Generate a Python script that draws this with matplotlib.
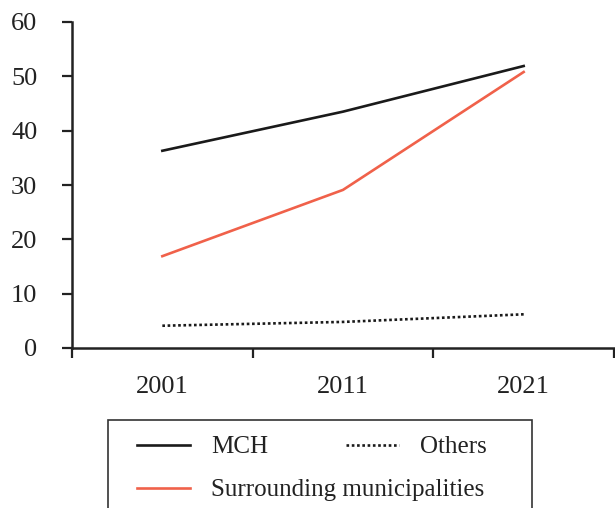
import matplotlib.pyplot as plt
from matplotlib.patches import Rectangle

years = ["2001", "2011", "2021"]
mch = [36.3, 43.5, 51.9]
surrounding = [16.9, 29.1, 50.8]
others = [4.1, 4.8, 6.2]

plt.rcParams['font.family'] = ['Liberation Serif', 'DejaVu Serif']

W, H = 615, 508
fig = plt.figure(figsize=(W / 100, H / 100), dpi=100)
ax = fig.add_axes([72/W, 1 - 348/H, 542/W, 326/H])

x = range(len(years))
l_mch, = ax.plot(x, mch, color="#1a1a1a", lw=1.9, label="MCH")
l_oth, = ax.plot(x, others, color="#1a1a1a", lw=1.9, ls=(0, (1, 1)), label="Others")
l_sur, = ax.plot(x, surrounding, color="#f0614a", lw=1.9, label="Surrounding municipalities")

ax.set_xlim(-0.5, 2.5)
ax.set_ylim(0, 60)
ax.set_yticks(range(0, 61, 10))
ax.set_xticks([-0.5, 0.5, 1.5, 2.5])
ax.set_xticklabels([])
ax.set_xticks(list(x), minor=True)
ax.set_xticklabels(years, minor=True)
ax.tick_params(axis="x", which="minor", length=0, pad=20, labelsize=19, colors="#222222")
ax.tick_params(axis="x", which="major", direction="out", length=7, width=1.6, color="#222222")
ax.tick_params(axis="y", length=7, width=1.6, labelsize=19, colors="#222222", pad=18)
for s in ["top", "right"]:
    ax.spines[s].set_visible(False)
for s in ["left", "bottom"]:
    ax.spines[s].set_linewidth(1.8)
    ax.spines[s].set_color("#222222")

# legend frame, runs off the bottom of the figure
fig.patches.append(Rectangle((108/W, -20/H), (532 - 108)/W, (528 - 420)/H,
                             transform=fig.transFigure, fill=False,
                             edgecolor="#333333", lw=1.2))

# one entry per legend so each sits where it does in the original
entries = [(l_mch, "MCH", 137, 447), (l_oth, "Others", 346, 447),
           (l_sur, "Surrounding municipalities", 137, 490)]
for handle, label, px, py in entries:
    leg = fig.legend([handle], [label], loc="center left",
                     bbox_to_anchor=(px/W, 1 - py/H), frameon=False,
                     fontsize=18, handlelength=2.1, handletextpad=0.85,
                     borderpad=0, borderaxespad=0)
    for t in leg.get_texts():
        t.set_color("#222222")

fig.savefig("out.png", dpi=100)
